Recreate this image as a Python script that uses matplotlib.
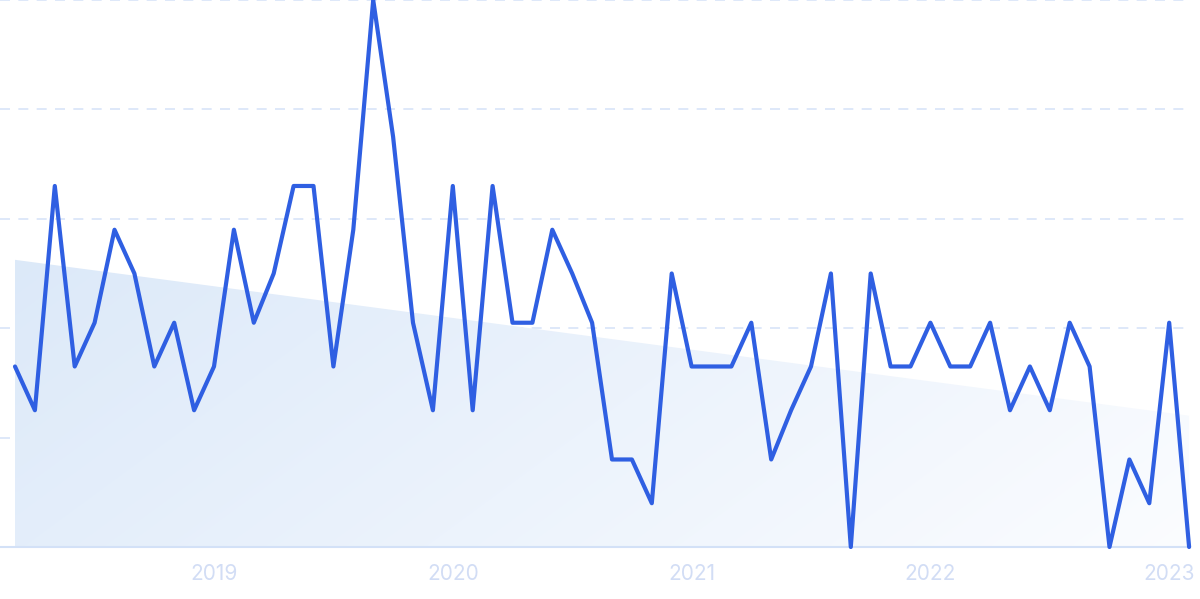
import numpy as np
import matplotlib
matplotlib.use("Agg")
import matplotlib.pyplot as plt
from matplotlib.path import Path
from matplotlib.patches import PathPatch

# ---- data (monthly, Mar 2018 - Feb 2023) ----
values = [33, 25, 66, 33, 41, 58, 50, 33, 41, 25,
          33, 58, 41, 50, 66, 66, 33, 58, 100, 75,
          41, 25, 66, 25, 66, 41, 41, 58, 50, 41,
          16, 16, 8, 50, 33, 33, 33, 41, 16, 25,
          33, 50, 0, 50, 33, 33, 41, 33, 33, 41,
          25, 33, 25, 41, 33, 0, 16, 8, 41, 0]
tick_positions = [10, 22, 34, 46, 58]
tick_labels = ["2019", "2020", "2021", "2022", "2023"]
trend_start = 52.5
trend_end = 24.0

plt.rcParams['font.family'] = ['Inter', 'DejaVu Sans']

fig = plt.figure(figsize=(12, 5.99), dpi=100)
W, H = 1200, 599
ax = fig.add_axes([0 / W, 1 - 547 / H, 1190 / W, 547 / H])

n = len(values)
x = np.arange(n)
xmin = -15 / 19.9
xmax = (1190 - 15) / 19.9
ax.set_xlim(xmin, xmax)
ax.set_ylim(0, 100)

# trend gradient fill
verts = [(0, 0), (0, trend_start), (n - 1, trend_end), (n - 1, 0), (0, 0)]
poly = PathPatch(Path(verts), facecolor='none', edgecolor='none')
ax.add_patch(poly)
gx = np.linspace(0, 1, 256)
gy = np.linspace(0, 1, 256)
GX, GY = np.meshgrid(gx, gy)
t = np.clip(0.75 * GX + 0.25 * (1 - GY), 0, 1)
c0 = np.array([0.863, 0.914, 0.976])
c1 = np.array([0.985, 0.990, 1.0])
img = c0[None, None, :] * (1 - t[..., None]) + c1[None, None, :] * t[..., None]
im = ax.imshow(img, extent=[0, n - 1, 0, trend_start], origin='lower',
               aspect='auto', zorder=1, interpolation='bilinear')
im.set_clip_path(poly)

# gridlines
for gv in [20, 40, 60, 80, 100]:
    ax.axhline(gv, color='#d8e4f8', lw=1.2, dashes=(6, 5), zorder=0.5, clip_on=False)
ax.axhline(0, color='#d3e1f7', lw=1.5, zorder=2, clip_on=False)

# main line
ax.plot(x, values, color='#2f5fe2', lw=3.0, solid_joinstyle='round',
        solid_capstyle='round', zorder=3, clip_on=False)

for s in ax.spines.values():
    s.set_visible(False)
ax.set_yticks([])
ax.set_xticks(tick_positions)
ax.set_xticklabels(tick_labels)
ax.tick_params(axis='x', length=0, pad=12, labelsize=15, labelcolor='#d2ddf5')

fig.savefig('out.png', dpi=100)
